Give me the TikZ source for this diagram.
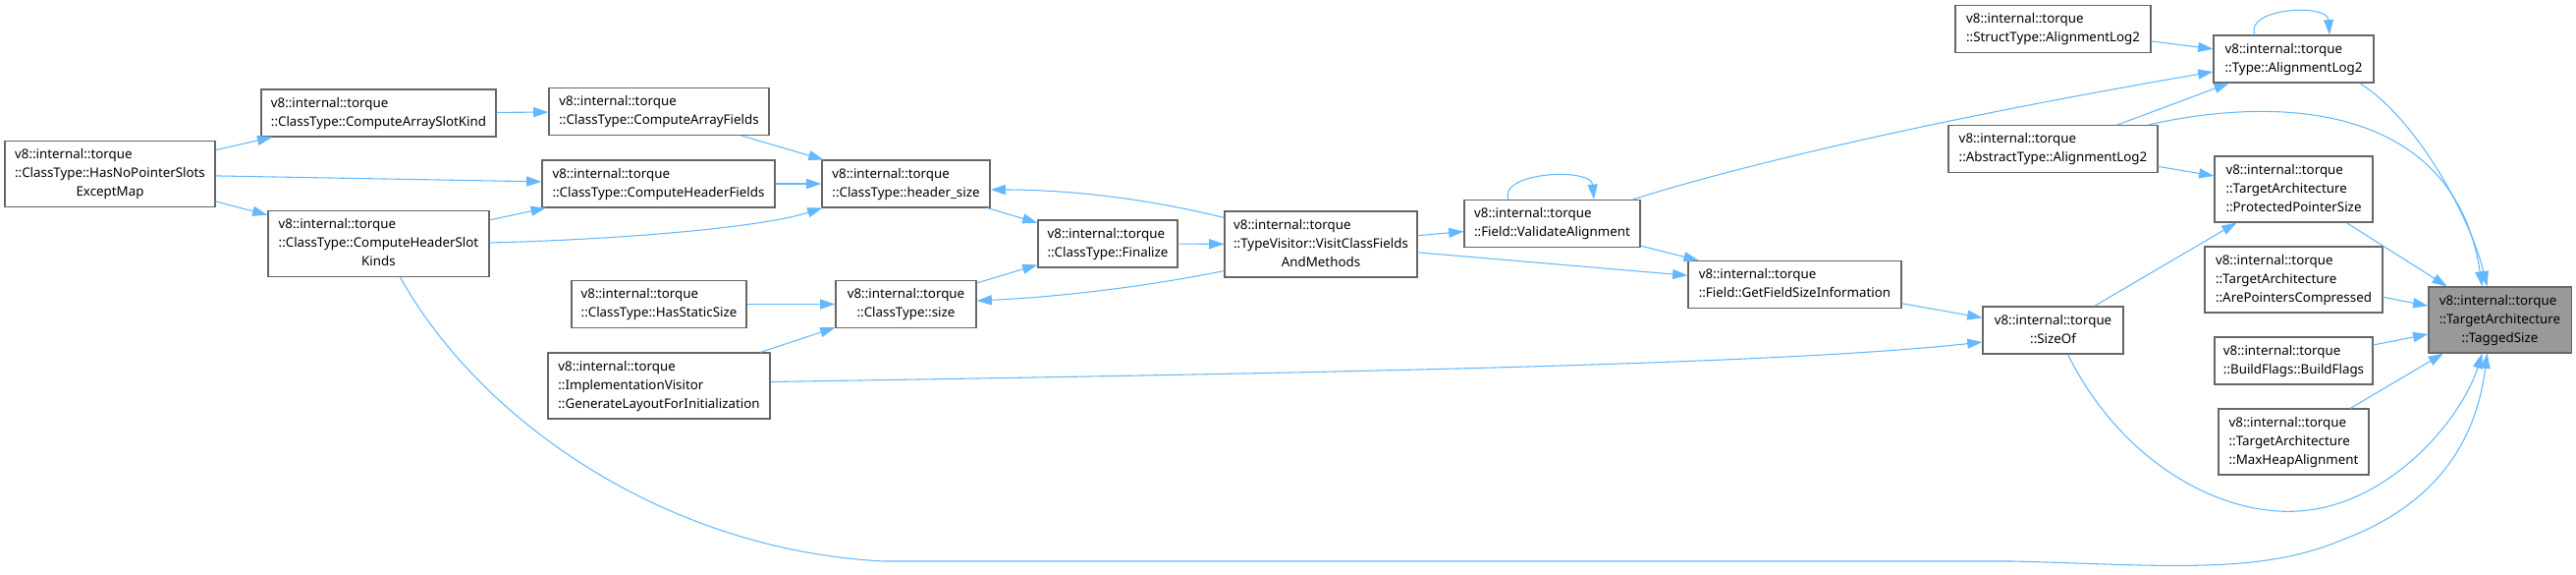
\documentclass[tikz,border=0pt]{standalone}
\usepackage{fontspec}
\setmainfont{Noto Sans}
\usetikzlibrary{arrows.meta,calc}
\definecolor{edgeblue}{HTML}{63B8FF}
\definecolor{boxgray}{HTML}{666666}
\definecolor{fillgray}{HTML}{999999}
\newcommand{\dlab}[2]{\begin{tabular}{@{}l@{}}#1\\\multicolumn{1}{@{}c@{}}{#2}\end{tabular}}
\tikzset{
  dbox/.style={draw=boxgray, fill=white, line width=0.8pt, inner sep=0pt,
    minimum width=#1, font=\fontsize{10}{14.25}\selectfont, text=black},
  htwo/.style={minimum height=36pt},
  hthree/.style={minimum height=50.25pt},
  conn/.style={draw=edgeblue, line width=0.8pt, -{Triangle[length=11.5pt,width=7.5pt]}},
}
\begin{document}
\begin{tikzpicture}[x=0.75pt,y=-0.75pt]
\useasboundingbox (0,0) rectangle (2623,585);
% nodes
\node[dbox=160.5pt,hthree] (hnp) at (112,177) {\dlab{v8::internal::torque\\::ClassType::HasNoPointerSlots}{ExceptMap}};
\node[dbox=179.25pt,htwo] (casc) at (385.5,115) {\dlab{v8::internal::torque}{::ClassType::ComputeArraySlotKind}};
\node[dbox=168.75pt,hthree] (chsk) at (385.5,248) {\dlab{v8::internal::torque\\::ClassType::ComputeHeaderSlot}{Kinds}};
\node[dbox=168pt,htwo] (caf) at (671,113.5) {\dlab{v8::internal::torque}{::ClassType::ComputeArrayFields}};
\node[dbox=177.75pt,htwo] (chf) at (670.5,187) {\dlab{v8::internal::torque}{::ClassType::ComputeHeaderFields}};
\node[dbox=128.25pt,htwo] (hs) at (922.5,187) {\dlab{v8::internal::torque}{::ClassType::header\_size}};
\node[dbox=106.5pt,htwo] (fin) at (1128,248) {\dlab{v8::internal::torque}{::ClassType::Finalize}};
\node[dbox=133.5pt,htwo] (hss) at (671,309.5) {\dlab{v8::internal::torque}{::ClassType::HasStaticSize}};
\node[dbox=107.25pt,htwo] (sz) at (922.5,309.5) {\dlab{v8::internal::torque}{::ClassType::size}};
\node[dbox=169.5pt,hthree] (gl) at (671,392.5) {\dlab{v8::internal::torque\\::ImplementationVisitor}{::GenerateLayoutForInitialization}};
\node[dbox=147pt,hthree] (vcf) at (1345,248.5) {\dlab{v8::internal::torque\\::TypeVisitor::VisitClassFields}{AndMethods}};
\node[dbox=134.25pt,htwo] (va) at (1580.5,227.5) {\dlab{v8::internal::torque}{::Field::ValidateAlignment}};
\node[dbox=162.75pt,htwo] (gfsi) at (1827.5,289.5) {\dlab{v8::internal::torque}{::Field::GetFieldSizeInformation}};
\node[dbox=149.25pt,htwo] (st) at (2090.5,29.5) {\dlab{v8::internal::torque}{::StructType::AlignmentLog2}};
\node[dbox=122.25pt,htwo] (ty) at (2335.5,60) {\dlab{v8::internal::torque}{::Type::AlignmentLog2}};
\node[dbox=159.75pt,htwo] (abst) at (2090.5,151.5) {\dlab{v8::internal::torque}{::AbstractType::AlignmentLog2}};
\node[dbox=120.75pt,hthree] (pps) at (2335.5,192.5) {\dlab{v8::internal::torque\\::TargetArchitecture}{::ProtectedPointerSize}};
\node[dbox=135.75pt,hthree] (apc) at (2335.5,284.5) {\dlab{v8::internal::torque\\::TargetArchitecture}{::ArePointersCompressed}};
\node[dbox=120.75pt,htwo] (bf) at (2335.5,367) {\dlab{v8::internal::torque}{::BuildFlags::BuildFlags}};
\node[dbox=114.75pt,hthree] (mha) at (2335.5,449.5) {\dlab{v8::internal::torque\\::TargetArchitecture}{::MaxHeapAlignment}};
\node[dbox=107.25pt,htwo] (so) at (2090.5,336) {\dlab{v8::internal::torque}{::SizeOf}};
\node[dbox=108.75pt,hthree,fill=fillgray] (ts) at (2545.5,325.5) {\dlab{v8::internal::torque\\::TargetArchitecture}{::TaggedSize}};
% edges
\draw[conn] (hnp) -- (casc);
\draw[conn] (hnp) -- (chf);
\draw[conn] (hnp) -- (chsk);
\draw[conn] (casc) -- (caf);
\draw[conn] (caf) -- (hs);
\draw[conn] (chf) -- (hs);
\draw[conn] (chsk) -- (chf);
\draw[conn] ($(chsk.east)+(0,-1)$) .. controls (650,243) and (780,230) .. ($(hs.south west)+(1,0)$);
\draw[conn] ($(chsk.south)+(22,0)$) .. controls (490,430) and (680,560) .. (900,571) -- (2050,571)
  .. controls (2200,575) and (2300,585) .. (2383,550) .. controls (2470,518) and (2520,460) .. ($(ts.south)+(-13,0)$);
\draw[conn] (hs) -- (fin);
\draw[conn] ($(vcf.north west)+(0,7)$) .. controls (1180,205) and (1100,193) .. ($(hs.east)+(0,6)$);
\draw[conn] (sz) -- (fin);
\draw[conn] ($(vcf.south west)+(0,-7)$) .. controls (1150,295) and (1060,303) .. ($(sz.east)+(0,-3.5)$);
\draw[conn] (hss) -- (sz);
\draw[conn] (gl) -- (sz);
\draw[conn] (fin) -- (vcf);
\draw[conn] ($(gl.east)+(0,-4)$) .. controls (1300,380) and (1800,372) .. ($(so.west)+(0,12)$);
\draw[conn] (vcf) -- (va);
\draw[conn] (vcf) -- (gfsi);
\draw[conn] (va) -- (gfsi);
\draw[conn] ($(va.north)+(-44.5,0)$) .. controls (1525,175) and (1620,170) .. ($(va.north)+(42.5,0)$);
\draw[conn] ($(va.north east)+(-8,0)$) .. controls (1760,172) and (1950,125) .. ($(ty.west)+(0,13)$);
\draw[conn] (st) -- (ty);
\draw[conn] (abst) -- (ty);
\draw[conn] (abst) -- (pps);
\draw[conn] ($(abst.north east)+(-10,0)$) .. controls (2330,95) and (2500,110) .. ($(ts.north)+(-18,0)$);
\draw[conn] ($(ty.south east)+(-15,0)$) .. controls (2460,120) and (2515,220) .. ($(ts.north)+(-13,0)$);
\draw[conn] ($(ty.north)+(-39.5,0)$) .. controls (2285,8) and (2370,3) .. ($(ty.north)+(36.5,0)$);
\draw[conn] (pps) -- (ts);
\draw[conn] (apc) -- (ts);
\draw[conn] (bf) -- (ts);
\draw[conn] (mha) -- (ts);
\draw[conn] (so) -- (pps);
\draw[conn] (gfsi) -- (so);
\draw[conn] ($(so.south)+(15,0)$) .. controls (2160,470) and (2260,525) .. (2340,520)
  .. controls (2430,515) and (2505,430) .. ($(ts.south)+(-18,0)$);
\end{tikzpicture}
\end{document}
